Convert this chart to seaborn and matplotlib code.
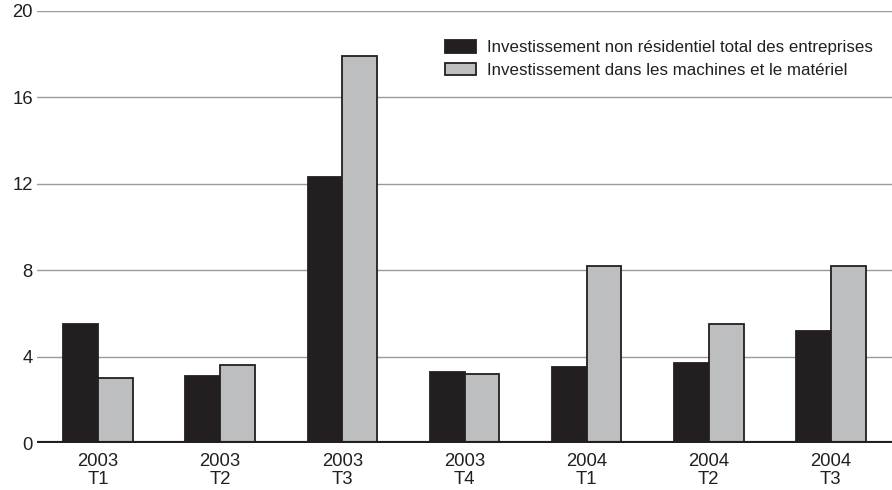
import matplotlib
matplotlib.use("Agg")
import matplotlib.pyplot as plt
import seaborn as sns
import pandas as pd
from matplotlib.patches import Patch

# Quarterly growth of business investment (annualized %)
quarters = ["2003\nT1", "2003\nT2", "2003\nT3", "2003\nT4", "2004\nT1", "2004\nT2", "2004\nT3"]
total_nonres = [5.5, 3.1, 12.3, 3.3, 3.5, 3.7, 5.2]
machinery = [3.0, 3.6, 17.9, 3.2, 8.2, 5.5, 8.2]
series_names = ["Investissement non résidentiel total des entreprises",
                "Investissement dans les machines et le matériel"]
yticks = [0, 4, 8, 12, 16, 20]

df = pd.DataFrame({
    "quarter": quarters * 2,
    "value": total_nonres + machinery,
    "series": [series_names[0]] * len(quarters) + [series_names[1]] * len(quarters),
})

sns.set_theme(style="white")
plt.rcParams["font.family"] = ["Liberation Sans", "DejaVu Sans"]

colors = ["#231f20", "#bcbec0"]
edge = "#231f20"

fig = plt.figure(figsize=(8.92, 4.90), dpi=100)
ax = fig.add_axes([37 / 892, 1 - 443 / 490, (892 - 37) / 892, (443 - 11) / 490])

sns.barplot(data=df, x="quarter", y="value", hue="series", palette=colors,
            width=0.57, gap=0, edgecolor=edge, linewidth=1.3, saturation=1,
            legend=False, ax=ax)

ax.set_ylim(0, 20)
ax.set_xlim(-0.5, 6.5)
ax.set_yticks(yticks)
ax.set_yticklabels([str(t) for t in yticks])
ax.set_xlabel("")
ax.set_ylabel("")
for s in ax.spines.values():
    s.set_visible(False)

for t in yticks[1:]:
    ax.axhline(t, color="#9a9a9a", linewidth=1.0, zorder=0)
ax.axhline(0, color=edge, linewidth=3.0, zorder=5)

ax.tick_params(axis="both", length=0, labelsize=13.3, colors="#231f20")
ax.tick_params(axis="y", pad=3)
ax.tick_params(axis="x", pad=7)
for lbl in ax.get_xticklabels():
    lbl.set_linespacing(1.1)

handles = [Patch(facecolor=c, edgecolor=edge, linewidth=1.3) for c in colors]
fig.legend(handles, series_names, loc="upper left",
           bbox_to_anchor=(430 / 892, 1 - 25 / 490), frameon=False,
           fontsize=12.2, handlelength=1.8, handleheight=0.75,
           handletextpad=0.65, labelspacing=0.45, labelcolor="#231f20")

fig.savefig("out.png", dpi=100)
